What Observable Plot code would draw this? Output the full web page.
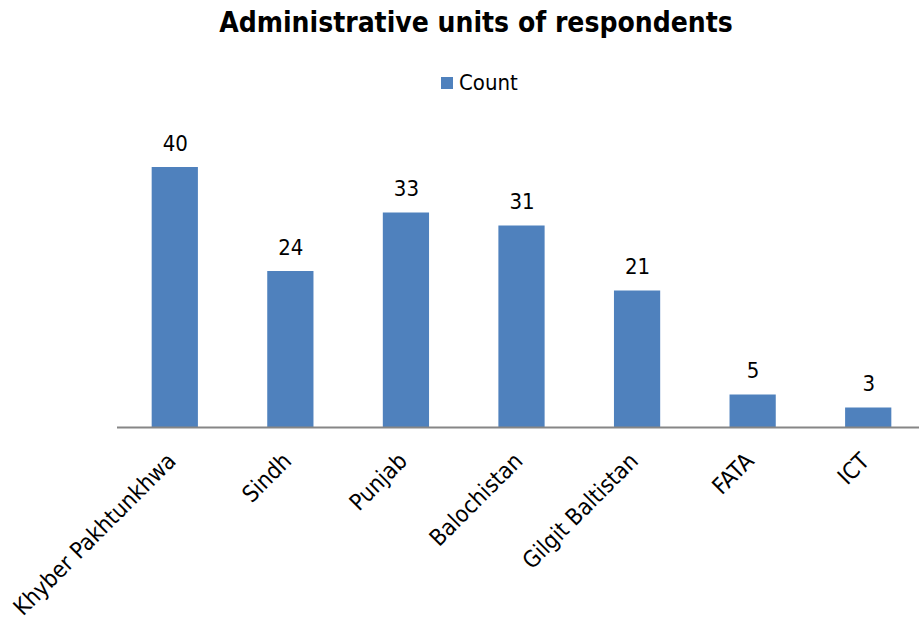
<!DOCTYPE html>
<html>
<head>
<meta charset="utf-8">
<script src="https://cdn.jsdelivr.net/npm/d3@7"></script>
<script src="https://cdn.jsdelivr.net/npm/@observablehq/plot@0.6"></script>
<style>
  html, body { margin: 0; padding: 0; background: #fff; }
  body { width: 919px; height: 619px; overflow: hidden; font-family: "DejaVu Sans Condensed", "DejaVu Sans", sans-serif; font-stretch: condensed; }
  #header { position: relative; height: 100px; width: 919px; }
  #title { position: absolute; left: 0; width: 952px; top: 9px; text-align: center; font-size: 28px; line-height: 28px; font-weight: bold; color: #000; white-space: nowrap; }
  #legend-swatch { position: absolute; left: 441px; top: 77px; width: 12px; height: 12px; background: #4F81BD; }
  #legend-label { position: absolute; left: 459px; top: 72px; font-size: 22px; line-height: 22px; color: #000; }
  #chart svg { display: block; }
</style>
</head>
<body>
<div id="header">
  <div id="title"></div>
  <div id="legend-swatch"></div>
  <div id="legend-label"></div>
</div>
<div id="chart"></div>
<script>
const titleText = "Administrative units of respondents";
const seriesName = "Count";
const categories = ["Khyber Pakhtunkhwa", "Sindh", "Punjab", "Balochistan", "Gilgit Baltistan", "FATA", "ICT"];
const counts = [40, 24, 33, 31, 21, 5, 3];
const barColor = "#4F81BD";

document.getElementById("title").textContent = titleText;
document.getElementById("legend-label").textContent = seriesName;

const data = categories.map((c, i) => ({category: c, count: counts[i]}));

const chart = Plot.plot({
  width: 919,
  height: 519,
  marginLeft: 117,
  marginRight: 0,
  marginTop: 0,
  marginBottom: 0,
  style: {fontFamily: "'DejaVu Sans Condensed', 'DejaVu Sans', sans-serif", fontStretch: "condensed", fontSize: "22px", color: "#000", background: "#fff"},
  x: {domain: categories, range: [117, 926], paddingInner: 0.6, paddingOuter: 0.3, round: false, axis: null},
  y: {domain: [0, 40], range: [327, 67], axis: null},
  marks: [
    Plot.barY(data, {x: "category", y: "count", fill: barColor}),
    Plot.ruleY([0], {stroke: "#868686", strokeWidth: 2}),
    Plot.text(data, {x: "category", y: "count", text: d => String(d.count), dy: -17, lineAnchor: "bottom", fontSize: 22, fill: "#000"}),
    Plot.text(data, {x: "category", y: () => 0, text: "category", rotate: -45, textAnchor: "end", lineAnchor: "bottom", dx: 2, dy: 35, fontSize: 23, fill: "#000"})
  ]
});
document.getElementById("chart").appendChild(chart);
</script>
</body>
</html>
